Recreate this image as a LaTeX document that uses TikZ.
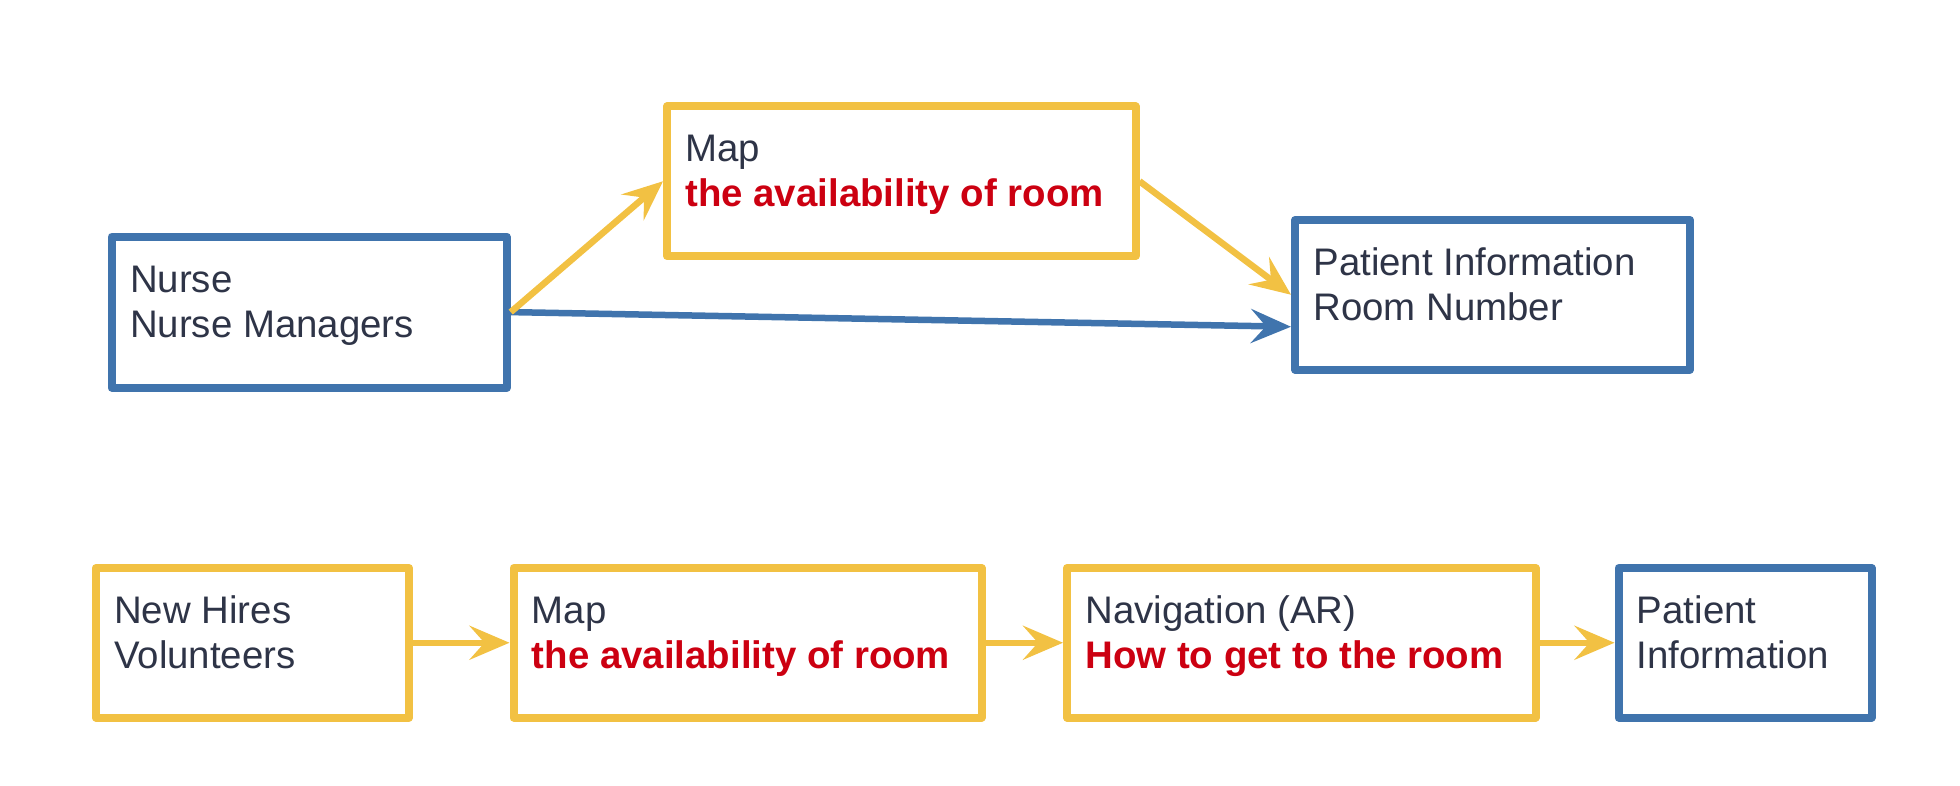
\documentclass[tikz,border=0pt]{standalone}
\usepackage{fontspec}
\setmainfont{Liberation Sans}
\usetikzlibrary{arrows.meta}
\definecolor{boxblue}{RGB}{64,116,173}
\definecolor{boxyellow}{RGB}{242,193,67}
\definecolor{txtdark}{RGB}{46,52,71}
\definecolor{txtred}{RGB}{204,0,17}
\tikzset{
  box/.style={draw, line width=4pt, line join=round, rectangle, inner sep=0pt, minimum height=74.75pt},
  bluebox/.style={box, draw=boxblue},
  yelbox/.style={box, draw=boxyellow},
  txt/.style={anchor=base west, inner sep=0pt, align=left, text=txtdark,
    font=\fontsize{19.2pt}{22.5pt}\selectfont},
  conn/.style={line width=3.25pt, -{Stealth[length=20pt, width=17pt, inset=7.5pt]}},
  yconn/.style={conn, draw=boxyellow, fill=boxyellow},
  bconn/.style={conn, draw=boxblue, fill=boxblue},
}
\newcommand{\redtxt}[1]{\textcolor{txtred}{\bfseries #1}}
\begin{document}
\begin{tikzpicture}[x=0.5pt, y=-0.5pt]
\useasboundingbox (0,0) rectangle (1960,786);
% boxes
\node[bluebox, minimum width=197.5pt, minimum height=75.5pt] (nurse) at (309.2,312.1) {};
\node[yelbox, minimum width=234.25pt] (map1) at (901.25,181.25) {};
\node[bluebox, minimum width=197.5pt] (pat1) at (1492.5,294.75) {};
\node[yelbox, minimum width=156.6pt] (hire) at (252.4,642.75) {};
\node[yelbox, minimum width=234pt] (map2) at (747.5,642.75) {};
\node[yelbox, minimum width=234.25pt] (nav) at (1301.25,642.75) {};
\node[bluebox, minimum width=126.5pt] (pat2) at (1745,642.75) {};
% texts (base anchor = baseline of the last line)
\node[txt] (nurse-t) at ([xshift=11pt, yshift=-52.25pt]nurse.north west) {Nurse\\Nurse Managers};
\node[txt] (map1-t) at ([xshift=11pt, yshift=-52.25pt]map1.north west) {Map\\\redtxt{the availability of room}};
\node[txt] (pat1-t) at ([xshift=11pt, yshift=-52.25pt]pat1.north west) {Patient Information\\Room Number};
\node[txt] (hire-t) at ([xshift=11pt, yshift=-52.25pt]hire.north west) {New Hires\\Volunteers};
\node[txt] (map2-t) at ([xshift=11pt, yshift=-52.25pt]map2.north west) {Map\\\redtxt{the availability of room}};
\node[txt] (nav-t) at ([xshift=11pt, yshift=-52.25pt]nav.north west) {Navigation (AR)\\\redtxt{How to get to the room}};
\node[txt] (pat2-t) at ([xshift=11pt, yshift=-52.25pt]pat2.north west) {Patient\\Information};
% connectors
\coordinate (pat1-in) at ([yshift=-16pt]pat1.west);
\draw[bconn] (nurse.east) -- (pat1-in);
\draw[yconn] (nurse.east) -- (map1.west);
\draw[yconn] (map1.east) -- (pat1.west);
\draw[yconn] (hire.east) -- (map2.west);
\draw[yconn] (map2.east) -- (nav.west);
\draw[yconn] (nav.east) -- (pat2.west);
\end{tikzpicture}
\end{document}
